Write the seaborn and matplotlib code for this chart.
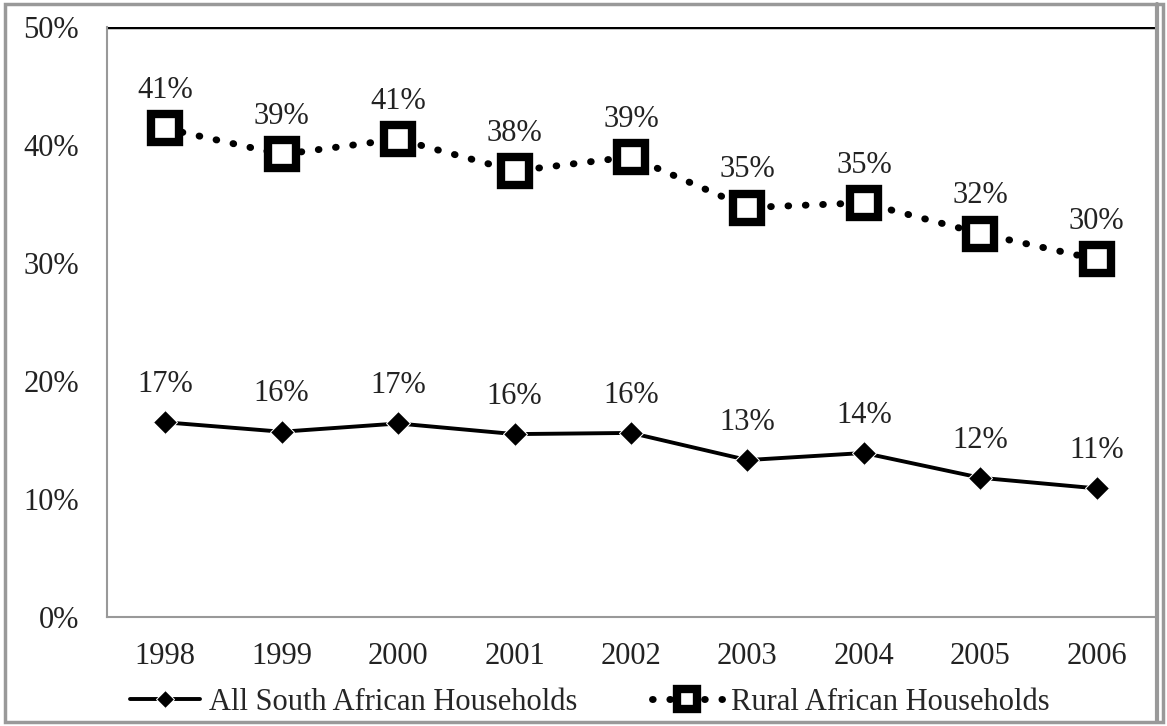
import matplotlib
matplotlib.use("Agg")
import matplotlib.pyplot as plt
import seaborn as sns
import pandas as pd
from matplotlib.patches import Rectangle

years = ["1998", "1999", "2000", "2001", "2002", "2003", "2004", "2005", "2006"]
all_sa = [16.5, 15.7, 16.4, 15.5, 15.6, 13.3, 13.9, 11.8, 10.9]
rural = [41.4, 39.2, 40.5, 37.8, 39.0, 34.7, 35.1, 32.5, 30.3]
all_labels = ["17%", "16%", "17%", "16%", "16%", "13%", "14%", "12%", "11%"]
rural_labels = ["41%", "39%", "41%", "38%", "39%", "35%", "35%", "32%", "30%"]
y_ticks = [0, 10, 20, 30, 40, 50]

sns.set_style("white")
plt.rcParams["font.family"] = ["Liberation Serif", "DejaVu Serif"]

df = pd.DataFrame({
    "year": years * 2,
    "value": all_sa + rural,
    "series": ["All South African Households"] * 9 + ["Rural African Households"] * 9,
})

FS = 22
TXT = "#222222"

fig = plt.figure(figsize=(11.67, 7.26), dpi=100)
ax = fig.add_axes([107 / 1167, 1 - 617 / 726, (1155 - 107) / 1167, (617 - 27) / 726])

sns.lineplot(data=df[df.series == "All South African Households"], x="year", y="value",
             color="black", lw=2.8, marker="D", markersize=12, ax=ax, sort=False,
             label="All South African Households")
sns.lineplot(data=df[df.series == "Rural African Households"], x="year", y="value",
             color="black", lw=5, linestyle=(0, (0.1, 2.4)), dash_capstyle="round",
             marker="s", markersize=20, markerfacecolor="white", markeredgecolor="black",
             markeredgewidth=6, ax=ax, sort=False, label="Rural African Households")

for i in range(len(years)):
    ax.text(i, all_sa[i] + 3.2, all_labels[i], ha="center", va="center", fontsize=FS, color=TXT)
    ax.text(i, rural[i] + 3.2, rural_labels[i], ha="center", va="center", fontsize=FS, color=TXT)

ax.set_xlim(-0.5, 8.5)
ax.set_ylim(0, 50)
ax.set_yticks(y_ticks)
ax.set_yticklabels([f"{t}%" for t in y_ticks], fontsize=FS, color=TXT)
ax.set_xticks(range(len(years)))
ax.set_xticklabels(years, fontsize=FS, color=TXT)
ax.set_xticks([i - 0.5 for i in range(len(years) + 1)], minor=True)
ax.tick_params(axis="x", which="major", length=0, pad=18)
ax.tick_params(axis="x", which="minor", length=7, color="#999999", width=1.5)
ax.tick_params(axis="y", length=7, color="#999999", width=1.5, pad=13)
ax.set_xlabel("")
ax.set_ylabel("")
ax.axhline(50, color="black", lw=2.5, xmin=0, xmax=1)

for side in ["left", "bottom"]:
    ax.spines[side].set_color("#999999")
    ax.spines[side].set_linewidth(1.5)
ax.spines["right"].set_visible(False)
ax.spines["top"].set_visible(False)

# two single-entry legends so each can sit where the reference puts it
handles, labels = ax.get_legend_handles_labels()
leg_kw = dict(frameon=False, fontsize=FS, handlelength=2.3, handletextpad=0.3,
              markerscale=0.75, borderaxespad=0, borderpad=0)
leg1 = ax.legend([handles[0]], [labels[0]], loc="center left",
                 bbox_to_anchor=(130 / 1167, 1 - 702 / 726), bbox_transform=fig.transFigure, **leg_kw)
ax.add_artist(leg1)
ax.legend([handles[1]], [labels[1]], loc="center left",
          bbox_to_anchor=(652 / 1167, 1 - 702 / 726), bbox_transform=fig.transFigure, **leg_kw)

fig.patches.append(Rectangle((5 / 1167, 4 / 726), 1158 / 1167, 718 / 726, transform=fig.transFigure,
                             fill=False, edgecolor="#999999", lw=2.5))
fig.add_artist(plt.Line2D([1157 / 1167, 1157 / 1167], [4 / 726, 722 / 726], color="#999999", lw=3,
                          transform=fig.transFigure))

fig.savefig("out.png", dpi=100)
